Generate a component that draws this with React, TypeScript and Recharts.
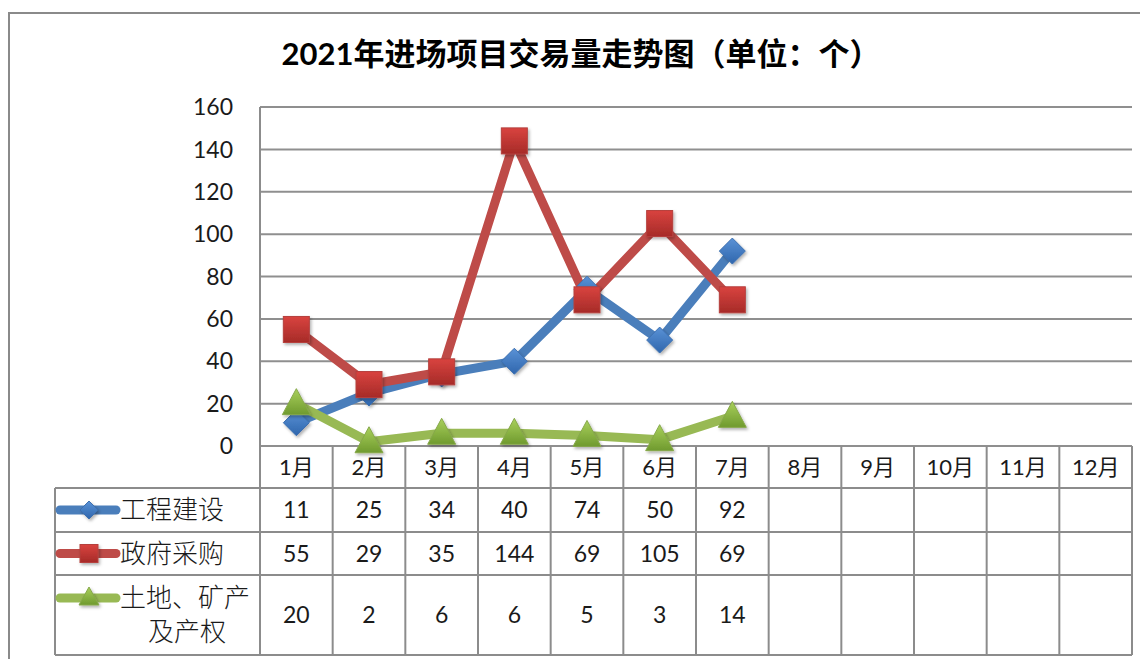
import { LineChart, Line, XAxis, YAxis, CartesianGrid } from 'recharts';

const MONTHS = ['1月', '2月', '3月', '4月', '5月', '6月', '7月', '8月', '9月', '10月', '11月', '12月'];
const GONGCHENG = [11, 25, 34, 40, 74, 50, 92];
const ZHENGFU = [55, 29, 35, 144, 69, 105, 69];
const TUDI = [20, 2, 6, 6, 5, 3, 14];
const Y_TICKS = [0, 20, 40, 60, 80, 100, 120, 140, 160];

const SERIES = [
  { key: 'gc', name: ['工程建设'], values: GONGCHENG, color: '#4a7ebb', shape: 'diamond' },
  { key: 'zf', name: ['政府采购'], values: ZHENGFU, color: '#be4b48', shape: 'square' },
  { key: 'td', name: ['土地、矿产', '及产权'], values: TUDI, color: '#98b954', shape: 'triangle' },
];

const data = MONTHS.map((m, i) => {
  const row: any = { month: m };
  SERIES.forEach((s) => {
    row[s.key] = s.values[i] ?? null;
  });
  return row;
});

const W = 1140;
const H = 651;
const PLOT_L = 252;
const PLOT_R = 1124;
const PLOT_T = 99;
const PLOT_B = 438;
const BW = (PLOT_R - PLOT_L) / 12;
// table rows: header, three series rows
const ROWS = [PLOT_B, 480, 524, 567, 647];
const TABLE_L = 47;
const LINE_C = '#8c8c8c';
const NUM_FONT = "Lato, 'Noto Sans CJK SC', sans-serif";
const CJK_FONT = "'Noto Sans CJK SC', sans-serif";

const GRAD: Record<string, string> = { diamond: 'url(#gBlue)', square: 'url(#gRed)', triangle: 'url(#gGreen)' };

function Marker({ cx, cy, shape, r = 13 }: any) {
  if (shape === 'diamond') {
    return (
      <polygon
        points={`${cx},${cy - r} ${cx + r},${cy} ${cx},${cy + r} ${cx - r},${cy}`}
        fill={GRAD.diamond}
        stroke="#3d70b0"
        strokeWidth={1}
        filter="url(#shadow)"
      />
    );
  }
  if (shape === 'square') {
    return (
      <rect
        x={cx - r}
        y={cy - r}
        width={r * 2}
        height={r * 2}
        fill={GRAD.square}
        stroke="#b5403d"
        strokeWidth={1}
        filter="url(#shadow)"
      />
    );
  }
  return (
    <polygon
      points={`${cx},${cy - r - 2} ${cx + r + 1},${cy + r - 2} ${cx - r - 1},${cy + r - 2}`}
      fill={GRAD.triangle}
      stroke="#86a84a"
      strokeWidth={1}
      filter="url(#shadow)"
    />
  );
}

const makeDot = (shape: string) => (props: any) => {
  const { cx, cy, value, index } = props;
  if (value == null || cx == null || cy == null) return <g key={`e-${shape}-${index}`} />;
  return (
    <g key={`d-${shape}-${index}`}>
      <Marker cx={cx} cy={cy} shape={shape} />
    </g>
  );
};

function TableColumn(props: any) {
  const { x, payload } = props;
  const i = props.index ?? payload.index;
  const left = x - BW / 2;
  const right = x + BW / 2;
  const yTop = ROWS[0];
  const yBot = ROWS[ROWS.length - 1];
  return (
    <g>
      {i === 0 && (
        <g>
          {ROWS.slice(1).map((y) => (
            <line key={y} x1={TABLE_L} x2={PLOT_R} y1={y} y2={y} stroke={LINE_C} strokeWidth={2} />
          ))}
          <line x1={TABLE_L} x2={TABLE_L} y1={ROWS[1]} y2={yBot} stroke={LINE_C} strokeWidth={2} />
          {SERIES.map((s, k) => {
            const cy = s.name.length > 1 ? ROWS[k + 1] + 23 : (ROWS[k + 1] + ROWS[k + 2]) / 2;
            return (
              <g key={s.key}>
                <line x1={52} x2={108} y1={cy} y2={cy} stroke={s.color} strokeWidth={9} strokeLinecap="round" />
                <Marker cx={81} cy={cy} shape={s.shape} r={9} />
                {s.name.map((t, j) => (
                  <text
                    key={t}
                    x={j === 0 ? 112 : 179}
                    y={cy + j * 34}
                    dy="0.35em"
                    textAnchor={j === 0 ? 'start' : 'middle'}
                    fontFamily={CJK_FONT}
                    fontWeight={300}
                    fontSize={26}
                    fill="#1a1a1a"
                  >
                    {t}
                  </text>
                ))}
              </g>
            );
          })}
        </g>
      )}
      <line x1={left} x2={left} y1={yTop} y2={yBot} stroke={LINE_C} strokeWidth={2} />
      {i === MONTHS.length - 1 && (
        <line x1={right} x2={right} y1={yTop} y2={yBot} stroke={LINE_C} strokeWidth={2} />
      )}
      <text x={x} y={(ROWS[0] + ROWS[1]) / 2} dy="0.35em" textAnchor="middle" fontFamily={NUM_FONT} fontSize={22} fill="#1a1a1a">
        {payload.value}
      </text>
      {SERIES.map((s, k) =>
        s.values[i] == null ? null : (
          <text
            key={s.key}
            x={x}
            y={(ROWS[k + 1] + ROWS[k + 2]) / 2}
            dy="0.35em"
            textAnchor="middle"
            fontFamily={NUM_FONT}
            fontSize={23}
            fill="#1a1a1a"
          >
            {s.values[i]}
          </text>
        )
      )}
    </g>
  );
}

export default function App() {
  return (
    <div style={{ width: W, height: H, background: '#fff' }}>
      <LineChart width={W} height={H} data={data} margin={{ top: PLOT_T, right: W - PLOT_R, left: 0, bottom: 0 }}>
        <defs>
          <linearGradient id="gBlue" x1="0" y1="0" x2="0" y2="1">
            <stop offset="0%" stopColor="#5a92d6" />
            <stop offset="100%" stopColor="#2f66ad" />
          </linearGradient>
          <linearGradient id="gRed" x1="0" y1="0" x2="0" y2="1">
            <stop offset="0%" stopColor="#d9433f" />
            <stop offset="100%" stopColor="#a62b28" />
          </linearGradient>
          <linearGradient id="gGreen" x1="0" y1="0" x2="0" y2="1">
            <stop offset="0%" stopColor="#a9d05c" />
            <stop offset="100%" stopColor="#6f9a2e" />
          </linearGradient>
          <filter id="shadow" x="-30%" y="-30%" width="160%" height="160%">
            <feDropShadow dx="1.5" dy="2" stdDeviation="1.5" floodColor="#000" floodOpacity="0.3" />
          </filter>
        </defs>
        <rect x={1} y={5} width={W + 10} height={H + 10} fill="none" stroke="#8a8a8a" strokeWidth={2} />
        <text
          x={573}
          y={57}
          textAnchor="middle"
          fontFamily={NUM_FONT}
          fontWeight="bold"
          fontSize={31}
          fill="#000"
        >
          2021年进场项目交易量走势图（单位：个）
        </text>
        <CartesianGrid vertical={false} stroke="#8f8f8f" strokeWidth={2} />
        <XAxis
          dataKey="month"
          scale="point"
          padding={{ left: BW / 2, right: BW / 2 }}
          height={H - PLOT_B}
          axisLine={false}
          tickLine={false}
          interval={0}
          tick={<TableColumn />}
        />
        <YAxis
          width={PLOT_L}
          domain={[0, 160]}
          ticks={Y_TICKS}
          interval={0}
          axisLine={{ stroke: LINE_C, strokeWidth: 2 }}
          tickLine={false}
          tickSize={0}
          tickMargin={27}
          tick={{ fontFamily: NUM_FONT, fontSize: 23, fill: '#1a1a1a' }}
        />
        {SERIES.map((s) => (
          <Line
            key={s.key}
            dataKey={s.key}
            stroke={s.color}
            strokeWidth={9}
            strokeLinejoin="round"
            type="linear"
            dot={makeDot(s.shape)}
            activeDot={false}
            isAnimationActive={false}
          />
        ))}
      </LineChart>
    </div>
  );
}
